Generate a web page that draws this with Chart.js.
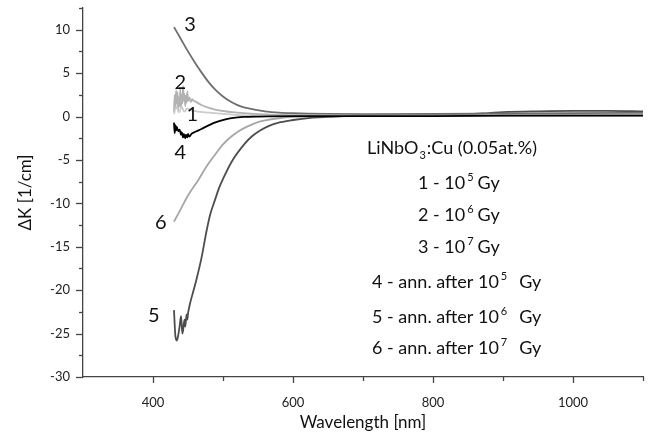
<!DOCTYPE html>
<html>
<head>
<meta charset="utf-8">
<script src="https://cdn.jsdelivr.net/npm/chart.js@4.4.1/dist/chart.umd.min.js"></script>
<style>
  html, body { margin: 0; padding: 0; background: #fff; }
  #wrap { width: 658px; height: 437px; }
</style>
</head>
<body>
<div id="wrap"><canvas id="c" width="658" height="437"></canvas></div>
<script>
// wavelengths (nm) and ΔK (1/cm), one pair of arrays per curve
const wl1 = [430, 432, 434, 436, 438, 440, 442, 444, 446, 448, 450, 455, 462, 480, 500, 525, 550, 600, 700, 800, 900, 1000, 1100];
const k1  = [0.3, 0.9, 1.2, 0.6, 0.5, 1.1, 1.0, 0.6, 0.6, 0.9, 0.9, 0.7, 0.6, 0.45, 0.3, 0.15, 0.05, 0.05, 0.05, 0.05, 0.1, 0.1, 0.1];

const wl2 = [430, 431, 432, 433, 434, 435, 436, 437, 438, 439, 440, 441, 442, 443, 444, 445, 446, 447, 448, 449, 450, 452, 454, 456, 458, 460, 470, 480, 490, 505, 520, 530, 550, 575, 600, 700, 800, 900, 1000, 1100];
const k2  = [0.5, 2.5, 1.0, 3.0, 1.5, 2.8, 0.8, 2.2, 1.2, 3.2, 1.0, 2.5, 1.5, 3.5, 1.8, 2.6, 1.2, 2.4, 1.6, 2.9, 1.8, 2.2, 1.7, 2.0, 1.8, 1.75, 1.3, 1.0, 0.78, 0.58, 0.45, 0.38, 0.28, 0.2, 0.15, 0.1, 0.1, 0.15, 0.2, 0.2];

const wl3 = [430, 440, 450, 460, 470, 480, 490, 500, 510, 520, 530, 545, 560, 580, 600, 650, 700, 800, 900, 1000, 1100];
const k3  = [10.3, 8.9, 7.5, 6.2, 5.0, 3.9, 3.0, 2.3, 1.75, 1.35, 1.05, 0.8, 0.6, 0.45, 0.38, 0.3, 0.28, 0.3, 0.35, 0.4, 0.42];

const wl4 = [430, 431, 432, 433, 434, 436, 438, 440, 441, 443, 444, 446, 447, 449, 450, 452, 455, 458, 465, 470, 481, 490, 505, 515, 529, 550, 600, 700, 800, 900, 1000, 1100];
const k4  = [-0.7, -1.9, -1.0, -1.6, -1.2, -1.7, -1.5, -2.1, -1.8, -2.4, -2.0, -2.5, -2.1, -2.4, -2.0, -2.3, -2.0, -1.85, -1.6, -1.4, -0.96, -0.65, -0.3, -0.15, -0.05, 0.0, 0.05, 0.05, 0.05, 0.1, 0.1, 0.1];

const wl5 = [430, 431, 432, 434, 436, 438, 440, 441, 442, 443, 445, 446, 448, 449, 450, 453, 457, 462, 469.5, 476.7, 482, 488.6, 494, 500.5, 512.4, 531.4, 541, 553, 565, 577, 600, 625, 650, 700, 750, 800, 850, 880, 900, 950, 1000, 1050, 1100];
const k5  = [-22.3, -24.0, -25.3, -25.8, -25.2, -24.2, -23.0, -24.0, -25.0, -24.6, -23.4, -24.2, -22.8, -23.4, -22.7, -21.5, -20.3, -18.8, -16.2, -13.1, -11.2, -9.6, -8.3, -7.1, -5.2, -3.1, -2.3, -1.6, -1.1, -0.75, -0.4, -0.15, -0.05, 0.1, 0.12, 0.15, 0.25, 0.4, 0.5, 0.6, 0.65, 0.65, 0.6];

const wl6 = [430, 440, 450, 464.8, 476, 488.6, 500, 512, 524, 536, 548, 560, 580, 600, 700, 800, 900, 1000, 1100];
const k6  = [-12.1, -10.6, -9.1, -7.3, -5.8, -4.4, -3.2, -2.3, -1.6, -1.1, -0.7, -0.45, -0.2, -0.05, 0.05, 0.05, 0.1, 0.15, 0.15];

const curveNames = ["1", "2", "3", "4", "5", "6"];
const curveColors = ["#cbcbcb", "#b2b2b2", "#6e6e6e", "#000000", "#4d4d4d", "#a6a6a6"];
const xTickLabels = [400, 600, 800, 1000];
const yTickLabels = [-30, -25, -20, -15, -10, -5, 0, 5, 10];

// where the curve numbers sit, in data coordinates
const numberSpots = {
  "1": [456, 0.2], "2": [439, 3.9], "3": [453, 10.6],
  "4": [439, -4.1], "5": [401, -22.9], "6": [411, -12.2]
};

const series = [[wl1, k1], [wl2, k2], [wl3, k3], [wl4, k4], [wl5, k5], [wl6, k6]];
const FONT = "Lato, 'Noto Sans', sans-serif";

const datasets = series.map(([xs, ys], i) => ({
  label: curveNames[i],
  data: xs.map((x, j) => ({ x: x, y: ys[j] })),
  borderColor: curveColors[i],
  borderWidth: 1.8,
  pointRadius: 0,
  fill: false,
  cubicInterpolationMode: "monotone",
}));
// black curve 4 on top of the light ones
datasets[3].order = -1;

function drawSup(ctx, x, y, base, sup, gap, tail) {
  ctx.font = `18px ${FONT}`;
  ctx.fillText(base, x, y);
  let cx = x + ctx.measureText(base).width + 2;
  ctx.font = `11px ${FONT}`;
  ctx.fillText(sup, cx, y - 8);
  cx += ctx.measureText(sup).width + gap;
  ctx.font = `18px ${FONT}`;
  ctx.fillText(tail, cx, y);
}

const decor = {
  id: "decor",
  afterDraw(chart) {
    const ctx = chart.ctx;
    const xs = chart.scales.x, ys = chart.scales.y;
    ctx.save();
    // tick marks, long on labelled values, short on the rest
    ctx.strokeStyle = "#444";
    ctx.lineWidth = 1.3;
    ys.ticks.forEach((t) => {
      const py = Math.round(ys.getPixelForValue(t.value)) + 0.5;
      const len = yTickLabels.includes(t.value) ? 7 : 4;
      ctx.beginPath();
      ctx.moveTo(xs.left - len, py);
      ctx.lineTo(xs.left, py);
      ctx.stroke();
    });
    xs.ticks.forEach((t) => {
      if (t.value <= xs.min) return;
      const px = Math.round(xs.getPixelForValue(t.value)) + 0.5;
      const len = xTickLabels.includes(t.value) ? 6 : 4;
      ctx.beginPath();
      ctx.moveTo(px, ys.bottom);
      ctx.lineTo(px, ys.bottom + len);
      ctx.stroke();
    });

    // curve numbers
    ctx.fillStyle = "#111";
    ctx.font = `20px ${FONT}`;
    ctx.textAlign = "center";
    ctx.textBaseline = "middle";
    Object.entries(numberSpots).forEach(([name, [wx, wy]]) => {
      ctx.fillText(name, xs.getPixelForValue(wx), ys.getPixelForValue(wy));
    });

    // sample description block
    ctx.textAlign = "left";
    ctx.textBaseline = "alphabetic";
    ctx.font = `18px ${FONT}`;
    let x0 = 367, y0 = 154;
    ctx.fillText("LiNbO", x0, y0);
    let cx = x0 + ctx.measureText("LiNbO").width + 1;
    ctx.font = `11px ${FONT}`;
    ctx.fillText("3", cx, y0 + 5);
    cx += ctx.measureText("3").width + 1;
    ctx.font = `18px ${FONT}`;
    ctx.fillText(":Cu (0.05at.%)", cx, y0);

    drawSup(ctx, 418, 189, "1 - 10", "5", 4, "Gy");
    drawSup(ctx, 418, 221, "2 - 10", "6", 4, "Gy");
    drawSup(ctx, 418, 253, "3 - 10", "7", 4, "Gy");
    drawSup(ctx, 372, 288, "4 - ann. after 10", "5", 12, "Gy");
    drawSup(ctx, 372, 323, "5 - ann. after 10", "6", 12, "Gy");
    drawSup(ctx, 372, 354, "6 - ann. after 10", "7", 12, "Gy");
    ctx.restore();
  }
};

new Chart(document.getElementById("c"), {
  type: "line",
  data: { datasets: datasets },
  options: {
    responsive: false,
    animation: false,
    layout: { padding: { top: 8, right: 15, left: 0, bottom: 0 } },
    plugins: { legend: { display: false }, tooltip: { enabled: false } },
    scales: {
      x: {
        type: "linear",
        min: 300,
        max: 1100,
        afterFit: (s) => { s.height = 60; s.paddingLeft = 0; s.paddingRight = 0; },
        grid: { display: false },
        border: { display: true, color: "#444", width: 1.3 },
        ticks: {
          stepSize: 100,
          padding: 10,
          color: "#222",
          font: { family: FONT, size: 13 },
          callback: (v) => (xTickLabels.includes(v) ? String(v) : ""),
        },
        title: {
          display: true,
          text: "Wavelength [nm]",
          color: "#111",
          font: { family: FONT, size: 17 },
          padding: { top: 8 },
        },
      },
      y: {
        min: -30,
        max: 12.5,
        afterFit: (s) => { s.width = 83; s.paddingTop = 0; s.paddingBottom = 0; },
        grid: { display: false },
        border: { display: true, color: "#444", width: 1.3 },
        ticks: {
          stepSize: 2.5,
          padding: 5,
          color: "#222",
          font: { family: FONT, size: 13 },
          callback: (v) => (yTickLabels.includes(v) ? String(v) : ""),
        },
        title: {
          display: true,
          text: "ΔK [1/cm]",
          color: "#111",
          font: { family: FONT, size: 17 },
          padding: { top: 15, bottom: 0 },
        },
      },
    },
  },
  plugins: [decor],
});
</script>
</body>
</html>
